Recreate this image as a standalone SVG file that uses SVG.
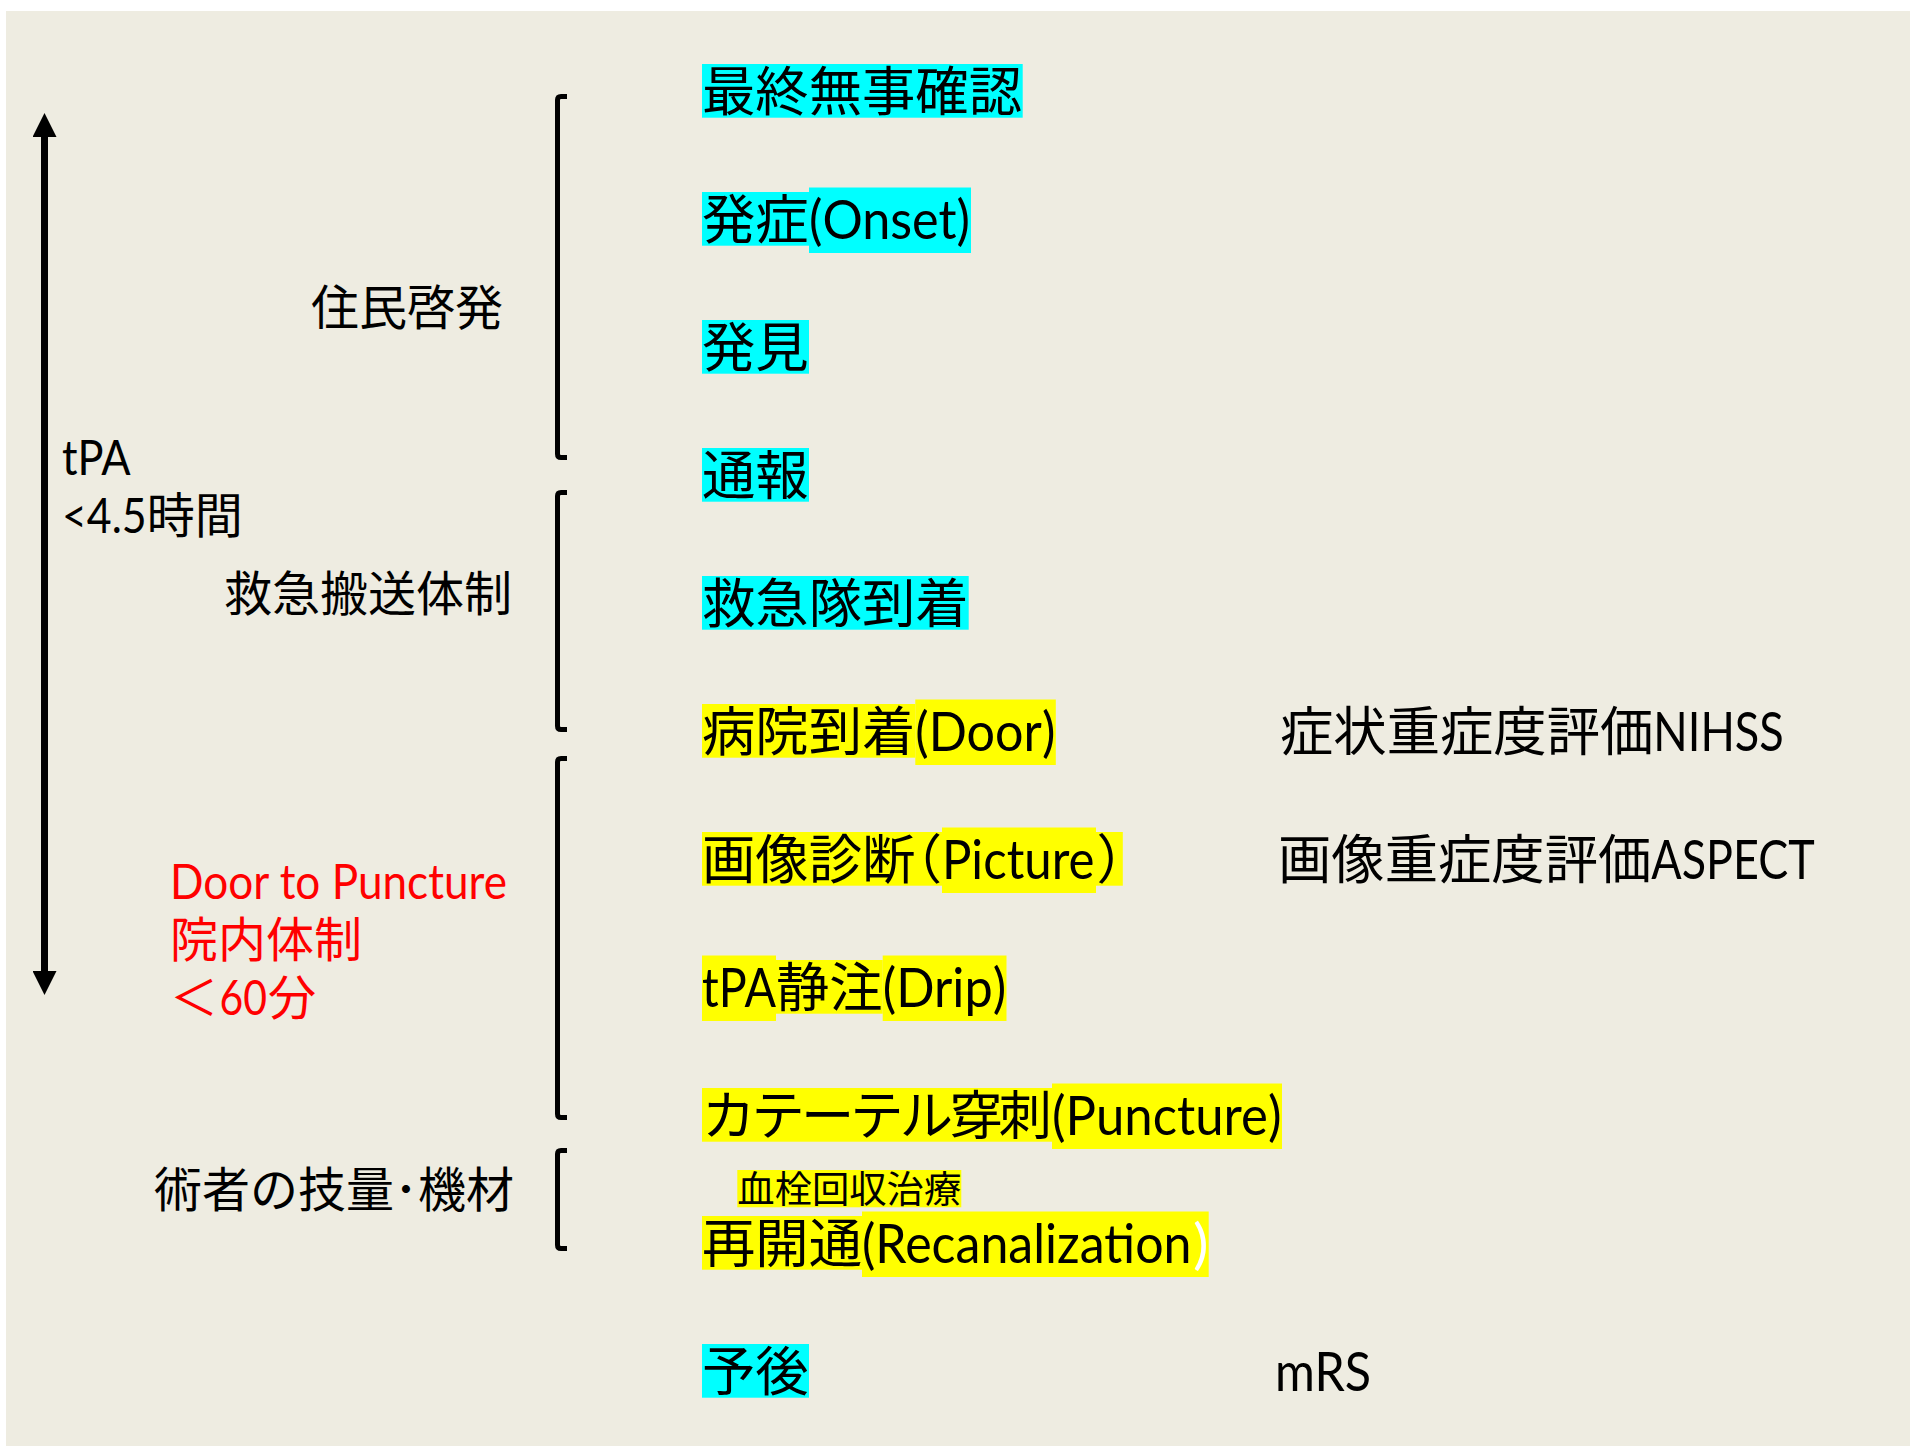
<svg xmlns="http://www.w3.org/2000/svg" width="1910" height="1447" viewBox="0 0 1910 1447">
<style>
.t{font-family:Lato,"Noto Sans CJK JP",sans-serif;fill:#000}
.big{font-size:53.33px}
.mid{font-size:48px}
.sm{font-size:37.33px}
.red{fill:#FF0000}
.cy{fill:#00FFFF}
.ye{fill:#FFFF00}
.hw{font-feature-settings:"halt" 1}
.br{fill:none;stroke:#000;stroke-width:5;stroke-linejoin:round}
.ax{stroke:#000;stroke-width:7}
</style>
<defs>
<marker id="ah" viewBox="0 0 24 24" refX="0" refY="12" markerWidth="24" markerHeight="24" markerUnits="userSpaceOnUse" orient="auto-start-reverse"><path d="M0,0 L24,12 L0,24 z" fill="#000"/></marker>
</defs>
<rect width="1910" height="1447" fill="#FFFFFF"/>
<rect class="bg" x="6" y="11" width="1904" height="1435" fill="#EEECE1"/>

<g id="connectors">
<line class="ax" x1="44.5" y1="137" x2="44.5" y2="971" marker-start="url(#ah)" marker-end="url(#ah)"/>
<path class="br" d="M567,96.5 H561 Q557.5,96.5 557.5,100 V454 Q557.5,457.5 561,457.5 H567"/>
<path class="br" d="M567,492.5 H561 Q557.5,492.5 557.5,496 V726 Q557.5,729.5 561,729.5 H567"/>
<path class="br" d="M567,758.5 H561 Q557.5,758.5 557.5,762 V1114 Q557.5,1117.5 561,1117.5 H567"/>
<path class="br" d="M567,1150.5 H561 Q557.5,1150.5 557.5,1154 V1245 Q557.5,1248.5 561,1248.5 H567"/>
</g>

<g id="label-tpa"><text class="t mid"><tspan x="62" y="475" textLength="68.7" lengthAdjust="spacingAndGlyphs">tPA</tspan><tspan x="62" y="532.6" textLength="84.7" lengthAdjust="spacingAndGlyphs">&lt;4.5</tspan><tspan x="146.7" y="532.6">時間</tspan></text></g>
<g id="label-jumin"><text class="t mid" x="311" y="325">住民啓発</text></g>
<g id="label-kyukyu"><text class="t mid" x="224" y="611">救急搬送体制</text></g>
<g id="label-innai"><text class="t mid red"><tspan x="170" y="899" textLength="337" lengthAdjust="spacingAndGlyphs">Door to Puncture</tspan><tspan x="170" y="957">院内体制</tspan><tspan x="170" y="1015">＜</tspan><tspan x="219.5" y="1015" textLength="47.5" lengthAdjust="spacingAndGlyphs">60</tspan><tspan x="268" y="1015">分</tspan></text></g>
<g id="label-jutsusha"><text class="t mid" x="154" y="1207">術者の技量･機材</text></g>

<g id="n-saishu"><rect class="cy" x="702" y="64" width="320.7" height="53.7"/><text class="t big" x="702" y="111">最終無事確認</text></g>
<g id="n-onset"><rect class="cy" x="702" y="192" width="107" height="53.7"/><rect class="cy" x="809" y="187.5" width="162" height="65.5"/><text class="t big" y="239"><tspan x="702">発症</tspan><tspan x="809" textLength="161" lengthAdjust="spacingAndGlyphs">(Onset)</tspan></text></g>
<g id="n-hakken"><rect class="cy" x="702" y="320" width="107" height="53.7"/><text class="t big" x="702" y="367">発見</text></g>
<g id="n-tsuho"><rect class="cy" x="702" y="448" width="107" height="53.7"/><text class="t big" x="702" y="495">通報</text></g>
<g id="n-kyukyutai"><rect class="cy" x="702" y="576" width="266.7" height="53.7"/><text class="t big" x="702" y="623">救急隊到着</text></g>
<g id="n-door"><rect class="ye" x="702" y="704" width="213.3" height="53.7"/><rect class="ye" x="915.3" y="699.5" width="140.5" height="65.5"/><text class="t big" y="751"><tspan x="702">病院到着</tspan><tspan x="915.3" textLength="140" lengthAdjust="spacingAndGlyphs">(Door)</tspan></text></g>
<g id="n-picture"><rect class="ye" x="702" y="832" width="420.8" height="53.7"/><rect class="ye" x="942" y="827.5" width="154" height="65.5"/><text class="t big" y="879"><tspan x="702">画像診断</tspan><tspan class="hw" x="915.3">（</tspan><tspan x="942" textLength="152.5" lengthAdjust="spacingAndGlyphs">Picture</tspan><tspan class="hw" x="1096.5">）</tspan></text></g>
<g id="n-drip"><rect class="ye" x="702" y="955.5" width="74" height="65.5"/><rect class="ye" x="776" y="960" width="106.7" height="53.7"/><rect class="ye" x="882.7" y="955.5" width="123.8" height="65.5"/><text class="t big" y="1007"><tspan x="702" textLength="74" lengthAdjust="spacingAndGlyphs">tPA</tspan><tspan x="776">静注</tspan><tspan x="882.7" textLength="123.5" lengthAdjust="spacingAndGlyphs">(Drip)</tspan></text></g>
<g id="n-puncture"><rect class="ye" x="702" y="1088" width="350" height="53.7"/><rect class="ye" x="1052" y="1083.5" width="230" height="65.5"/><text class="t big" y="1135"><tspan x="702" textLength="350" lengthAdjust="spacing">カテーテル穿刺</tspan><tspan x="1052" textLength="229.5" lengthAdjust="spacingAndGlyphs">(Puncture)</tspan></text></g>
<g id="n-kessen"><rect class="ye" x="737.3" y="1170" width="224" height="37.3"/><text class="t sm" x="737.3" y="1202.9">血栓回収治療</text></g>
<g id="n-recan"><rect class="ye" x="702" y="1216" width="160" height="53.7"/><rect class="ye" x="862" y="1211.5" width="346.7" height="65.5"/><text class="t big" y="1263"><tspan x="702">再開通</tspan><tspan x="862" textLength="329.5" lengthAdjust="spacingAndGlyphs">(Recanalization</tspan><tspan x="1193" textLength="15.5" lengthAdjust="spacingAndGlyphs" fill="#FFFFFF">)</tspan></text></g>
<g id="n-yogo"><rect class="cy" x="702" y="1344" width="107" height="53.7"/><text class="t big" x="702" y="1391">予後</text></g>

<g id="note-nihss"><text class="t big" y="751"><tspan x="1280">症状重症度評価</tspan><tspan x="1653.3" textLength="130.5" lengthAdjust="spacingAndGlyphs">NIHSS</tspan></text></g>
<g id="note-aspect"><text class="t big" y="879"><tspan x="1278">画像重症度評価</tspan><tspan x="1651.3" textLength="163.4" lengthAdjust="spacingAndGlyphs">ASPECT</tspan></text></g>
<g id="note-mrs"><text class="t big" x="1275" y="1391" textLength="96" lengthAdjust="spacingAndGlyphs">mRS</text></g>
</svg>
